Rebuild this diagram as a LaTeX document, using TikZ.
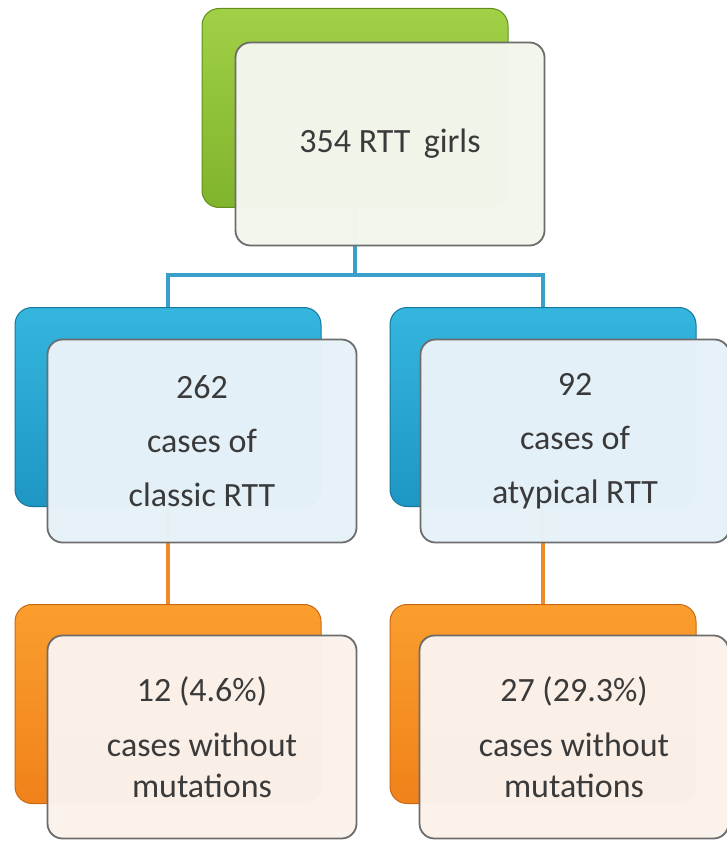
\documentclass[tikz,border=0pt]{standalone}
\usepackage{fontspec}
\setmainfont{Carlito}
\definecolor{back_green}{RGB}{160,208,70}
\definecolor{dark_green}{RGB}{128,180,44}
\definecolor{edge_green}{RGB}{98,142,30}
\definecolor{back_blue}{RGB}{52,182,222}
\definecolor{dark_blue}{RGB}{30,150,196}
\definecolor{edge_blue}{RGB}{22,118,158}
\definecolor{back_orange}{RGB}{250,158,46}
\definecolor{dark_orange}{RGB}{240,130,26}
\definecolor{edge_orange}{RGB}{204,104,20}
\definecolor{card_green}{RGB}{243,246,237}
\definecolor{card_blue}{RGB}{231,242,248}
\definecolor{card_orange}{RGB}{251,242,235}
\definecolor{card_edge}{RGB}{108,108,108}
\definecolor{link_blue}{RGB}{58,160,202}
\definecolor{link_orange}{RGB}{240,138,40}
\definecolor{ink}{RGB}{58,58,58}

\begin{document}
\begin{tikzpicture}[x=1pt,y=-1pt,semithick]
    \tikzstyle{back}=[draw, rounded corners=17pt, minimum width=306pt, minimum height=199pt, inner sep=0pt, line width=1pt]
    \tikzstyle{backgreen}=[style=back, top color=back_green, bottom color=dark_green, draw=edge_green]
    \tikzstyle{backblue}=[style=back, top color=back_blue, bottom color=dark_blue, draw=edge_blue]
    \tikzstyle{backorange}=[style=back, top color=back_orange, bottom color=dark_orange, draw=edge_orange]
    \tikzstyle{card}=[draw=card_edge, line width=1.8pt, rounded corners=15pt, minimum width=309pt, minimum height=203pt, align=center, text=ink, fill opacity=0.98, text opacity=1, font=\fontsize{34}{41}\selectfont]
    \tikzstyle{link}=[line width=3.6pt]

    \useasboundingbox (0,0) rectangle (727,842);

    % coloured boxes behind
    \node[backgreen]  (G)  at (355,108) {};
    \node[backblue]   (BL) at (168,407) {};
    \node[backblue]   (BR) at (543,407) {};
    \node[backorange] (OL) at (168,704) {};
    \node[backorange] (OR) at (543,704) {};

    \coordinate (split) at (355,275);
    \draw[link,link_blue] (G.south) -- (split) -| (BL.north);
    \draw[link,link_blue] (split) -| (BR.north);
    \draw[link,link_orange] (BL.south) -- (OL.north);
    \draw[link,link_orange] (BR.south) -- (OR.north);

    % white cards in front
    \node[card,fill=card_green]  (g)  at ([shift={(35,36)}]G.center)  {354 RTT\, girls};
    \node[card,fill=card_blue]   (bl) at ([shift={(34,34)}]BL.center) {262\\[13pt]cases of\\[13pt]classic RTT};
    \node[card,fill=card_blue]   (br) at ([shift={(32,34)}]BR.center) {92\\[13pt]cases of\\[13pt]atypical RTT};
    \node[card,fill=card_orange] (ol) at ([shift={(34,33)}]OL.center) {12 (4.6\%)\\[14pt]cases without\\mutations};
    \node[card,fill=card_orange] (or) at ([shift={(31,33)}]OR.center) {27 (29.3\%)\\[14pt]cases without\\mutations};
  \end{tikzpicture}
\end{document}
